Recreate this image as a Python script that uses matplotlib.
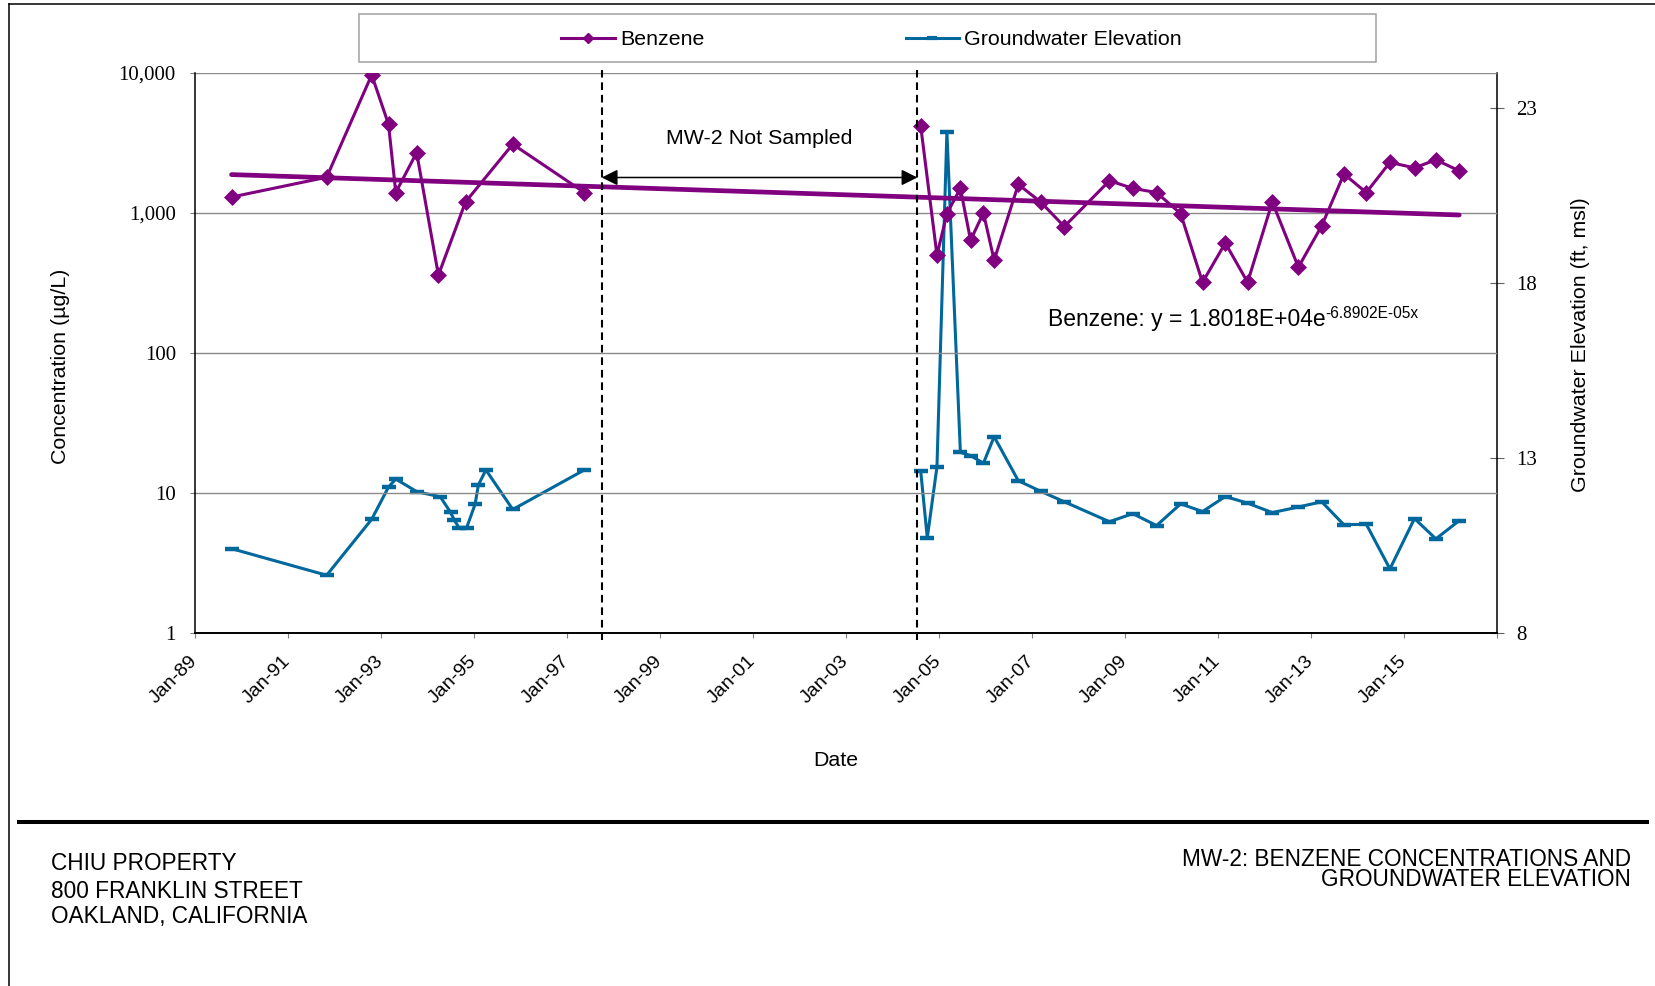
import numpy as np
import pandas as pd
import matplotlib
matplotlib.use('Agg')
import matplotlib.pyplot as plt
import matplotlib.dates as mdates
from matplotlib.lines import Line2D
from matplotlib.patches import Rectangle
from matplotlib.ticker import NullLocator
from matplotlib.transforms import blended_transform_factory

plt.rcParams['font.family'] = ['Liberation Sans', 'DejaVu Sans']
plt.rcParams['lines.scale_dashes'] = False

W, H = 1655, 986
PURPLE = '#800080'
BLUE = '#00689c'
SERIF = 'Liberation Serif'

# MW-2 benzene results (ug/L)
benzene_dates = ['1989-10-15', '1991-11-01', '1992-10-20', '1993-03-01', '1993-04-27',
                 '1993-10-08', '1994-03-28', '1994-10-27', '1995-11-02', '1997-05-18',
                 '2004-08-10', '2004-12-16', '2005-03-04', '2005-06-18', '2005-09-06',
                 '2005-12-16', '2006-03-10', '2006-09-16', '2007-03-10', '2007-09-12',
                 '2008-09-01', '2009-03-03', '2009-09-06', '2010-03-14', '2010-09-02',
                 '2011-02-28', '2011-08-22', '2012-03-03', '2012-09-24', '2013-03-26',
                 '2013-09-17', '2014-03-11', '2014-09-13', '2015-03-25', '2015-09-09',
                 '2016-03-10']
benzene_ugl = [1300, 1800, 9700, 4300, 1400, 2700, 360, 1200, 3100, 1400,
               4200, 500, 990, 1500, 640, 1000, 460, 1600, 1200, 800,
               1700, 1500, 1400, 990, 320, 610, 320, 1200, 410, 810,
               1900, 1400, 2300, 2100, 2400, 2000]

# groundwater elevation (ft, msl)
gw_dates = ['1989-10-15', '1991-11-01', '1992-10-20', '1993-03-01', '1993-04-27',
            '1993-10-08', '1994-04-12', '1994-07-01', '1994-07-30', '1994-09-05',
            '1994-11-05', '1995-01-10', '1995-02-05', '1995-04-05', '1995-11-02',
            '1997-05-18',
            '2004-08-10', '2004-10-01', '2004-12-16', '2005-03-04', '2005-06-18',
            '2005-09-06', '2005-12-16', '2006-03-10', '2006-09-16', '2007-03-10',
            '2007-09-12', '2008-09-01', '2009-03-03', '2009-09-06', '2010-03-14',
            '2010-09-02', '2011-02-28', '2011-08-22', '2012-03-03', '2012-09-24',
            '2013-03-26', '2013-09-17', '2014-03-11', '2014-09-13', '2015-03-25',
            '2015-09-09', '2016-03-10']
gw_elev = [10.41, 9.65, 11.25, 12.17, 12.40, 12.04, 11.89, 11.45, 11.23, 11.01,
           11.01, 11.68, 12.23, 12.66, 11.53, 12.66,
           12.64, 10.72, 12.75, 22.31, 13.16, 13.07, 12.85, 13.61, 12.35, 12.05,
           11.75, 11.18, 11.41, 11.07, 11.69, 11.47, 11.90, 11.71, 11.44, 11.60,
           11.75, 11.09, 11.11, 9.83, 11.27, 10.69, 11.21]

not_sampled = ['1997-10-01', '2004-07-15']

# excel trendline: y = a * exp(b * x), x = excel date serial
trend_a = 1.8018e4
trend_b = -6.8902e-5
excel_offset = 25569

tick_years = list(range(1989, 2018, 2))
tick_labels = ['Jan-%02d' % (y % 100) for y in tick_years[:-1]] + ['']
conc_ticks = [1, 10, 100, 1000, 10000]
elev_ticks = [8, 13, 18, 23]


def px(x, y):
    return x / W, 1 - y / H


def split_gap(dates, values):
    # series is broken over the not-sampled period
    d = pd.to_datetime(dates)
    v = np.asarray(values, dtype=float)
    gap = pd.Timestamp(not_sampled[0])
    return [(d[d < gap], v[d < gap]), (d[d >= gap], v[d >= gap])]


fig = plt.figure(figsize=(W / 100, H / 100), dpi=100)
ax = fig.add_axes([195 / W, 1 - 633 / H, 1302 / W, 560 / H])
ax2 = ax.twinx()
ax.set_zorder(ax2.get_zorder() + 1)
ax.patch.set_visible(False)

for d, v in split_gap(gw_dates, gw_elev):
    ax2.plot(d, v, color=BLUE, lw=2.2, marker='_', ms=10, mew=3.2, zorder=3)

for d, v in split_gap(benzene_dates, benzene_ugl):
    ax.plot(d, v, color=PURPLE, lw=2.2, marker='D', ms=7.8, mew=0.5, zorder=3)

bd = pd.to_datetime(benzene_dates)
serial = mdates.date2num(bd.to_pydatetime()) + excel_offset
ax.plot(bd, trend_a * np.exp(trend_b * serial), color=PURPLE, lw=3.4,
        solid_capstyle='round', zorder=4)

ax.set_yscale('log')
ax.set_ylim(1, 10000)
ax.set_xlim(pd.Timestamp('1989-01-01'), pd.Timestamp('2017-01-01'))
ax.set_yticks(conc_ticks, labels=['{:,}'.format(v) for v in conc_ticks],
              fontfamily=SERIF, fontsize=15)
ax.yaxis.set_minor_locator(NullLocator())
ax.grid(axis='y', which='major', color='#8a8a8a', lw=1.0)
ax.set_axisbelow(True)

ax.set_xticks([pd.Timestamp('%d-01-01' % y) for y in tick_years])
ax.set_xticklabels(tick_labels, rotation=45, ha='right', va='center',
                   rotation_mode='anchor', fontsize=14)
ax.tick_params(axis='x', direction='out', length=3.6, width=0.8, color='#808080', pad=15)
ax.tick_params(axis='y', direction='out', length=3.8, width=0.8, color='#808080', pad=10)

ax2.set_ylim(8, 24)
ax2.set_yticks(elev_ticks, labels=[str(v) for v in elev_ticks], fontfamily=SERIF, fontsize=15)
ax2.tick_params(axis='y', direction='inout', length=10, width=0.8, color='#606060', pad=9)

for a in (ax, ax2):
    a.spines['top'].set_visible(False)
ax.spines['right'].set_visible(False)
ax2.spines['left'].set_visible(False)
ax2.spines['bottom'].set_visible(False)
ax.spines['left'].set_linewidth(1.1)
ax.spines['bottom'].set_linewidth(1.4)
ax2.spines['right'].set_linewidth(1.1)

trans = blended_transform_factory(ax.transData, ax.transAxes)
ns = [mdates.date2num(pd.Timestamp(d).to_pydatetime()) for d in not_sampled]
for d in ns:
    ax.plot([d, d], [-0.0125, 1.005], transform=trans, color='black', lw=1.5,
            dashes=(5.5, 3.5), clip_on=False, zorder=5)
ax.annotate('', xy=(ns[0], 0.8134), xytext=(ns[1], 0.8134),
            xycoords=trans, textcoords=trans,
            arrowprops=dict(arrowstyle='<|-|>,head_length=0.6,head_width=0.3',
                            color='black', lw=1.1, shrinkA=0, shrinkB=0,
                            mutation_scale=16))
ax.text((ns[0] + ns[1]) / 2, 0.8834, 'MW-2 Not Sampled', transform=trans,
        ha='center', va='center', fontsize=15.4)

eq = ax.text(0.6551, 0.559, 'Benzene: y = 1.8018E+04e', transform=ax.transAxes,
             ha='left', va='center', fontsize=16.5)
ax.annotate('-6.8902E-05x', xy=(1.0, 0.6), xycoords=eq, ha='left', va='baseline',
            fontsize=11.2)

# legend box
fig.add_artist(Rectangle(px(359, 62), 1017 / W, 48.3 / H, transform=fig.transFigure,
                         fill=False, edgecolor='#a0a0a0', lw=1.1))
handles = [Line2D([], [], color=PURPLE, lw=2.2, marker='D', ms=5.3),
           Line2D([], [], color=BLUE, lw=2.2, marker='_', ms=7, mew=3)]
fig.legend(handles, ['Benzene', 'Groundwater Elevation'], loc='center',
           bbox_to_anchor=px(871.6, 39.5), ncol=2, frameon=False, fontsize=15.4,
           handlelength=2.5, handletextpad=0.25, columnspacing=9.4,
           borderpad=0, borderaxespad=0)

fig.text(*px(60, 366), 'Concentration (\u00b5g/L)', rotation=90, ha='center',
         va='center', fontsize=15.4)
fig.text(*px(1580, 345), 'Groundwater Elevation (ft, msl)', rotation=90,
         ha='center', va='center', fontsize=15.4)
fig.text(*px(836, 761), 'Date', ha='center', va='center', fontsize=15.4)

# page frame and title block
fig.add_artist(Line2D([8.6 / W, 1], [1 - 4.3 / H] * 2, transform=fig.transFigure,
                      color='black', lw=1.1))
fig.add_artist(Line2D([8.6 / W] * 2, [1 - 4.3 / H, 0], transform=fig.transFigure,
                      color='black', lw=1.1))
fig.add_artist(Line2D([19 / W, 1647 / W], [1 - 822 / H] * 2, transform=fig.transFigure,
                      color='black', lw=2.9))

for y, s in zip([864, 891, 917], ['CHIU PROPERTY', '800 FRANKLIN STREET',
                                  'OAKLAND, CALIFORNIA']):
    fig.text(*px(50.7, y), s, ha='left', va='center', fontsize=16.3)
for y, s in zip([859, 880], ['MW-2: BENZENE CONCENTRATIONS AND',
                             'GROUNDWATER ELEVATION']):
    fig.text(*px(1631, y), s, ha='right', va='center', fontsize=16.3)

fig.savefig('out.png', dpi=100)
